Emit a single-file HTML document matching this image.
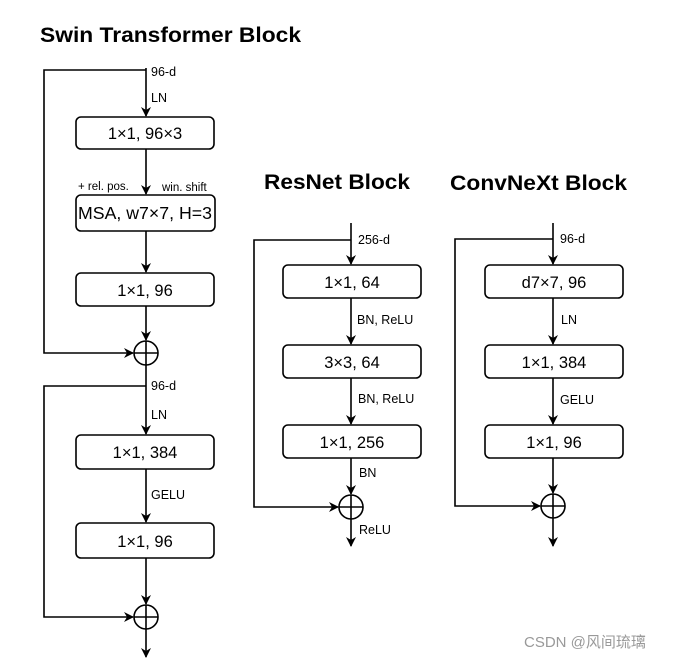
<!DOCTYPE html>
<html><head><meta charset="utf-8"><style>
html,body{margin:0;padding:0;background:#fff;}
svg{display:block;}
text{font-family:"Liberation Sans",Arial,sans-serif;fill:#000;}
</style></head><body>
<svg width="695" height="661" viewBox="0 0 695 661" xmlns="http://www.w3.org/2000/svg">
<defs>
<marker id="a" markerWidth="10" markerHeight="10" refX="9" refY="5" orient="auto" markerUnits="userSpaceOnUse">
<path d="M0,0 L10,5 L0,10 L3,5 Z" fill="#000"/>
</marker>
</defs>
<g stroke="#000" stroke-width="1.6" fill="none">
<!-- Swin -->
<line x1="146" y1="68" x2="146" y2="116" marker-end="url(#a)"/>
<polyline points="146,70 44,70 44,353 133,353" marker-end="url(#a)"/>
<rect x="76" y="117" width="138" height="32" rx="5"/>
<line x1="146" y1="149" x2="146" y2="194" marker-end="url(#a)"/>
<rect x="76" y="195" width="139" height="36" rx="5"/>
<line x1="146" y1="231" x2="146" y2="272" marker-end="url(#a)"/>
<rect x="76" y="273" width="138" height="33" rx="5"/>
<line x1="146" y1="306" x2="146" y2="340" marker-end="url(#a)"/>
<circle cx="146" cy="353" r="12"/><line x1="134" y1="353" x2="158" y2="353"/><line x1="146" y1="341" x2="146" y2="365"/>
<line x1="146" y1="365" x2="146" y2="434" marker-end="url(#a)"/>
<polyline points="146,386 44,386 44,617 133,617" marker-end="url(#a)"/>
<rect x="76" y="435" width="138" height="34" rx="5"/>
<line x1="146" y1="469" x2="146" y2="522" marker-end="url(#a)"/>
<rect x="76" y="523" width="138" height="35" rx="5"/>
<line x1="146" y1="558" x2="146" y2="604" marker-end="url(#a)"/>
<circle cx="146" cy="617" r="12"/><line x1="134" y1="617" x2="158" y2="617"/><line x1="146" y1="605" x2="146" y2="629"/>
<line x1="146" y1="629" x2="146" y2="657" marker-end="url(#a)"/>
<!-- ResNet -->
<line x1="351" y1="223" x2="351" y2="264" marker-end="url(#a)"/>
<polyline points="351,240 254,240 254,507 338,507" marker-end="url(#a)"/>
<rect x="283" y="265" width="138" height="33" rx="5"/>
<line x1="351" y1="298" x2="351" y2="344" marker-end="url(#a)"/>
<rect x="283" y="345" width="138" height="33" rx="5"/>
<line x1="351" y1="378" x2="351" y2="424" marker-end="url(#a)"/>
<rect x="283" y="425" width="138" height="33" rx="5"/>
<line x1="351" y1="458" x2="351" y2="494" marker-end="url(#a)"/>
<circle cx="351" cy="507" r="12"/><line x1="339" y1="507" x2="363" y2="507"/><line x1="351" y1="495" x2="351" y2="519"/>
<line x1="351" y1="519" x2="351" y2="546" marker-end="url(#a)"/>
<!-- ConvNeXt -->
<line x1="553" y1="223" x2="553" y2="264" marker-end="url(#a)"/>
<polyline points="553,239 455,239 455,506 540,506" marker-end="url(#a)"/>
<rect x="485" y="265" width="138" height="33" rx="5"/>
<line x1="553" y1="298" x2="553" y2="344" marker-end="url(#a)"/>
<rect x="485" y="345" width="138" height="33" rx="5"/>
<line x1="553" y1="378" x2="553" y2="424" marker-end="url(#a)"/>
<rect x="485" y="425" width="138" height="33" rx="5"/>
<line x1="553" y1="458" x2="553" y2="493" marker-end="url(#a)"/>
<circle cx="553" cy="506" r="12"/><line x1="541" y1="506" x2="565" y2="506"/><line x1="553" y1="494" x2="553" y2="518"/>
<line x1="553" y1="518" x2="553" y2="546" marker-end="url(#a)"/>
</g>
<g font-weight="bold" font-size="21">
<text x="40" y="42" textLength="261" lengthAdjust="spacingAndGlyphs">Swin Transformer Block</text>
<text x="264" y="189" textLength="146" lengthAdjust="spacingAndGlyphs">ResNet Block</text>
<text x="450" y="190" textLength="177" lengthAdjust="spacingAndGlyphs">ConvNeXt Block</text>
</g>
<g font-size="16.5" text-anchor="middle">
<text x="145" y="139">1×1, 96×3</text>
<text x="145" y="219" font-size="17.5" textLength="134" lengthAdjust="spacingAndGlyphs">MSA, w7×7, H=3</text>
<text x="145" y="296">1×1, 96</text>
<text x="145" y="458">1×1, 384</text>
<text x="145" y="547">1×1, 96</text>
<text x="352" y="288">1×1, 64</text>
<text x="352" y="368">3×3, 64</text>
<text x="352" y="448">1×1, 256</text>
<text x="554" y="288">d7×7, 96</text>
<text x="554" y="368">1×1, 384</text>
<text x="554" y="448">1×1, 96</text>
</g>
<g font-size="12.5">
<text x="151" y="76">96-d</text>
<text x="151" y="102">LN</text>
<text x="78" y="190" font-size="11.5">+ rel. pos.</text>
<text x="162" y="191" font-size="11.5">win. shift</text>
<text x="151" y="390">96-d</text>
<text x="151" y="419">LN</text>
<text x="151" y="499">GELU</text>
<text x="358" y="244">256-d</text>
<text x="357" y="324">BN, ReLU</text>
<text x="358" y="403">BN, ReLU</text>
<text x="359" y="477">BN</text>
<text x="359" y="534">ReLU</text>
<text x="560" y="243">96-d</text>
<text x="561" y="324">LN</text>
<text x="560" y="404">GELU</text>
</g>
<text x="524" y="647" font-size="15" style="fill:#999" font-family="Liberation Sans, Noto Sans CJK SC, sans-serif">CSDN @风间琉璃</text>
</svg>
</body></html>
